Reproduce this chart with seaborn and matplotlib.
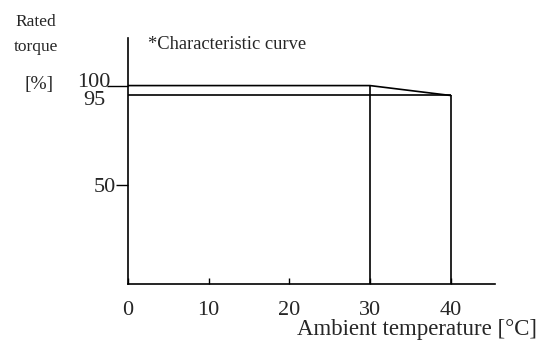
import matplotlib
matplotlib.use("Agg")
import matplotlib.pyplot as plt
import seaborn as sns
import pandas as pd

# characteristic curve: ambient temperature vs rated torque
temp = [0, 30, 40]
torque = [100, 100, 95]

x_ticks = [0, 10, 20, 30, 40]
y_ticks = [50]

sns.set_style("white")
plt.rcParams["font.family"] = ["Liberation Serif", "DejaVu Serif"]

df = pd.DataFrame({"temp": temp, "torque": torque})

fig = plt.figure(figsize=(5.55, 3.47), dpi=100)
ax = fig.add_axes([0.2306, 0.1816, 0.6614, 0.709])

sns.lineplot(data=df, x="temp", y="torque", color="black", linewidth=1.2, ax=ax)
# guide lines from the knee points
ax.hlines(torque[-1], temp[0], temp[-1], color="black", linewidth=1.2)
ax.vlines(temp[1:], 0, torque[1:], color="black", linewidth=1.2)

ax.set_xlim(0, 45.5)
ax.set_ylim(0, 124)
sns.despine(ax=ax)
for s in ["left", "bottom"]:
    ax.spines[s].set_color("black")
    ax.spines[s].set_linewidth(1.2)

ax.set_xticks(x_ticks)
ax.set_xticklabels([str(t) for t in x_ticks], fontsize=16)
ax.tick_params(axis="x", bottom=True, direction="in", length=4, width=1.0,
               pad=12, color="black")
ax.set_yticks(y_ticks)
ax.set_yticklabels([str(t) for t in y_ticks], fontsize=16)
ax.tick_params(axis="y", which="major", left=True, direction="out", length=9,
               width=1.0, pad=0, color="black")
# longer tick at the 100 % level, labels written separately
ax.set_yticks([torque[0]], minor=True)
ax.tick_params(axis="y", which="minor", left=True, direction="out", length=15,
               width=1.0, color="black")
ax.text(-2.2, 101.5, str(torque[0]), fontsize=16, ha="right", va="center")
ax.text(-2.8, 92.5, str(torque[-1]), fontsize=16, ha="right", va="center")
ax.set_xlabel("")
ax.set_ylabel("")

ax.text(2.45, 120.6, "*Characteristic curve", fontsize=13.3, ha="left", va="center")
fig.text(537 / 555, 1 - 330 / 347, "Ambient temperature [°C]", fontsize=16.5,
         ha="right", va="center")
fig.text(15 / 555, 1 - 22 / 347, "Rated", fontsize=12.5, ha="left", va="center")
fig.text(14 / 555, 1 - 47 / 347, "torque", fontsize=12.5, ha="left", va="center")
fig.text(25 / 555, 1 - 85 / 347, "[%]", fontsize=14, ha="left", va="center")

fig.savefig("out.png", dpi=100)
